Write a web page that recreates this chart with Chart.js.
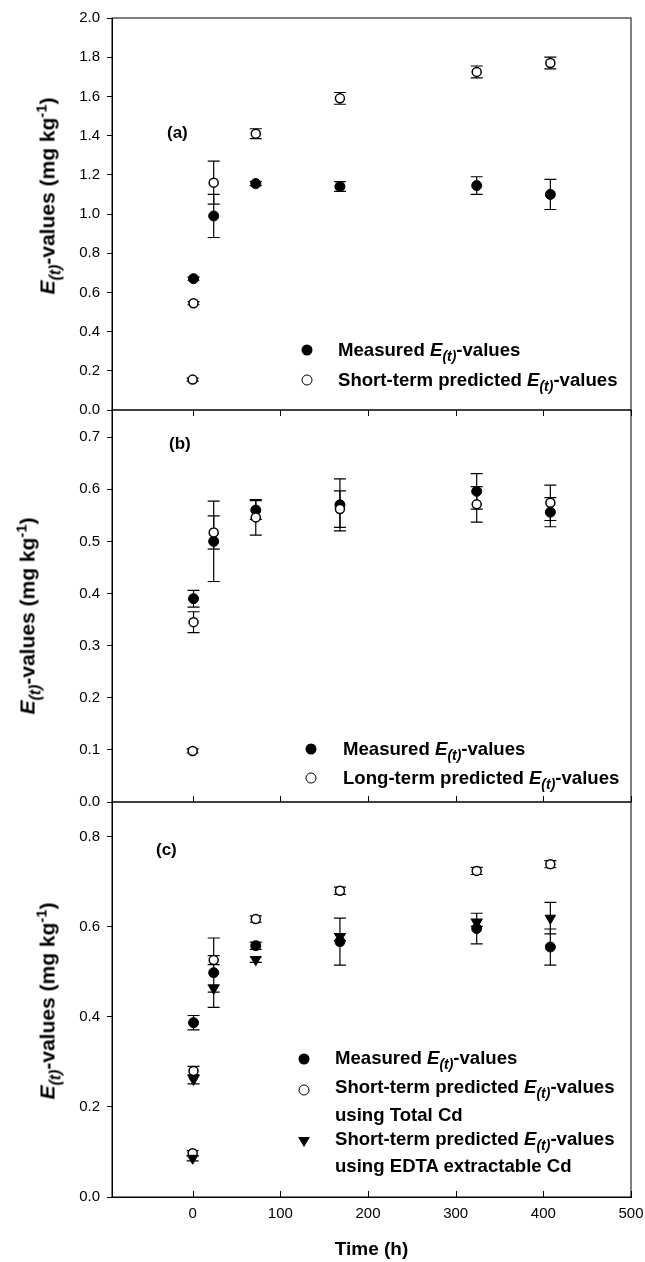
<!DOCTYPE html>
<html>
<head>
<meta charset="utf-8">
<script src="https://cdn.jsdelivr.net/npm/chart.js@4.4.0/dist/chart.umd.min.js"></script>
<style>
body { margin: 0; background: #fff; }
#wrap { position: relative; width: 645px; height: 1262px; font-family: 'Liberation Sans', Arial, sans-serif; color: #000; }
canvas { position: absolute; left: 0; top: 0; }
.ytitle { position: absolute; white-space: nowrap; font-weight: bold; font-size: 21px; line-height: 21px; transform: translate(-50%, -50%) rotate(-90deg); }
.leg { position: absolute; white-space: nowrap; font-weight: bold; font-size: 18.6px; line-height: 18px; transform: translateY(-50%); }
.plabel { position: absolute; font-weight: bold; font-size: 17px; line-height: 17px; transform: translateY(-50%); }
sub { font-size: 0.75em; vertical-align: -0.35em; line-height: 0; font-style: italic; }
sup { font-size: 0.7em; vertical-align: 0.55em; line-height: 0; }
.mk { position: absolute; transform: translate(-50%, -50%); box-sizing: border-box; }
.mk.fill { width: 11px; height: 11px; border-radius: 50%; background: #000; }
.mk.open { width: 11px; height: 11px; border-radius: 50%; border: 1.5px solid #000; background: #fff; }
.mk.tri { width: 0; height: 0; border-left: 6px solid transparent; border-right: 6px solid transparent; border-top: 10px solid #000; }
</style>
</head>
<body>
<div id="wrap">
    <canvas id="chartA" width="645" height="1262"></canvas>
    <canvas id="chartB" width="645" height="1262"></canvas>
    <canvas id="chartC" width="645" height="1262"></canvas>

    <div class="ytitle" style="left:47px; top:196px"><i>E</i><sub>(t)</sub>-values (mg kg<sup>-1</sup>)</div>
    <div class="ytitle" style="left:27px; top:616px"><i>E</i><sub>(t)</sub>-values (mg kg<sup>-1</sup>)</div>
    <div class="ytitle" style="left:47px; top:1001px"><i>E</i><sub>(t)</sub>-values (mg kg<sup>-1</sup>)</div>

    <div class="plabel" style="left:167px; top:132px">(a)</div>
    <div class="plabel" style="left:169px; top:443px">(b)</div>
    <div class="plabel" style="left:156px; top:849px">(c)</div>

    <span class="mk fill" style="left:307px; top:350px"></span>
    <span class="mk open" style="left:307px; top:380px"></span>
    <div class="leg" style="left:338px; top:350px">Measured <i>E</i><sub>(t)</sub>-values</div>
    <div class="leg" style="left:338px; top:380px">Short-term predicted <i>E</i><sub>(t)</sub>-values</div>

    <span class="mk fill" style="left:311px; top:749px"></span>
    <span class="mk open" style="left:311px; top:778px"></span>
    <div class="leg" style="left:343px; top:749px">Measured <i>E</i><sub>(t)</sub>-values</div>
    <div class="leg" style="left:343px; top:778px">Long-term predicted <i>E</i><sub>(t)</sub>-values</div>

    <span class="mk fill" style="left:304px; top:1059px"></span>
    <span class="mk open" style="left:304px; top:1090px"></span>
    <span class="mk tri" style="left:304px; top:1142px"></span>
    <div class="leg" style="left:335px; top:1058px">Measured <i>E</i><sub>(t)</sub>-values</div>
    <div class="leg" style="left:335px; top:1087px">Short-term predicted <i>E</i><sub>(t)</sub>-values</div>
    <div class="leg" style="left:335px; top:1115px">using Total Cd</div>
    <div class="leg" style="left:335px; top:1139px">Short-term predicted <i>E</i><sub>(t)</sub>-values</div>
    <div class="leg" style="left:335px; top:1166px">using EDTA extractable Cd</div>
</div>

<script>
const xTicks = [0, 100, 200, 300, 400, 500]
const timeMeasured = [1, 24, 72, 168, 324, 408]
const timePredicted = [0, 1, 24, 72, 168, 324, 408]

// panel (a)
const yTicksA = [0, 0.2, 0.4, 0.6, 0.8, 1.0, 1.2, 1.4, 1.6, 1.8, 2.0]
const measuredA = [0.67, 0.99, 1.155, 1.14, 1.145, 1.10]
const measuredErrA = [0.008, 0.11, 0.01, 0.025, 0.045, 0.077]
const shortTermA = [0.155, 0.545, 1.16, 1.41, 1.59, 1.725, 1.77]
const shortTermErrA = [0.008, 0.008, 0.11, 0.025, 0.03, 0.03, 0.03]

// panel (b)
const yTicksB = [0, 0.1, 0.2, 0.3, 0.4, 0.5, 0.6, 0.7]
const measuredB = [0.39, 0.50, 0.56, 0.57, 0.596, 0.556]
const measuredErrB = [0.016, 0.077, 0.018, 0.05, 0.034, 0.028]
const longTermB = [0.098, 0.345, 0.517, 0.546, 0.562, 0.571, 0.574]
const longTermErrB = [0.004, 0.02, 0.032, 0.034, 0.035, 0.034, 0.034]

// panel (c)
const yTicksC = [0, 0.2, 0.4, 0.6, 0.8]
const measuredC = [0.387, 0.498, 0.558, 0.567, 0.596, 0.555]
const measuredErrC = [0.016, 0.077, 0.008, 0.052, 0.034, 0.04]
const totalCdC = [0.097, 0.28, 0.526, 0.617, 0.68, 0.724, 0.739]
const totalCdErrC = [0.006, 0.01, 0.01, 0.007, 0.008, 0.008, 0.008]
const edtaC = [0.086, 0.261, 0.463, 0.527, 0.577, 0.609, 0.619]
const edtaErrC = [0.006, 0.01, 0.008, 0.006, 0.008, 0.008, 0.035]

const FONT = "'Liberation Sans', Arial, sans-serif"

function toPoints(times, values) {
    return values.map(function(v, i) {
        return { x: times[i], y: v }
    })
}

function filledSet(label, times, values, errors) {
    return {
        label: label, data: toPoints(times, values), errors: errors,
        pointStyle: 'circle', pointRadius: 5,
        pointBackgroundColor: '#000', pointBorderColor: '#000', pointBorderWidth: 1
    }
}

function openSet(label, times, values, errors) {
    return {
        label: label, data: toPoints(times, values), errors: errors,
        pointStyle: 'circle', pointRadius: 4.5,
        pointBackgroundColor: '#fff', pointBorderColor: '#000', pointBorderWidth: 1.5
    }
}

function triangleSet(label, times, values, errors) {
    return {
        label: label, data: toPoints(times, values), errors: errors,
        pointStyle: 'triangle', pointRotation: 180, pointRadius: 6,
        pointBackgroundColor: '#000', pointBorderColor: '#000', pointBorderWidth: 1
    }
}

// vertical error bars with caps, drawn under the markers
const errorBars = {
    id: 'errorBars',
    beforeDatasetsDraw: function(chart) {
        const ctx = chart.ctx
        const xs = chart.scales.x
        const ys = chart.scales.y
        ctx.save()
        ctx.strokeStyle = '#000'
        ctx.lineWidth = 1.2
        chart.data.datasets.forEach(function(ds) {
            if (!ds.errors) return
            ds.data.forEach(function(p, i) {
                const e = ds.errors[i]
                const px = xs.getPixelForValue(p.x)
                const top = ys.getPixelForValue(p.y + e)
                const bot = ys.getPixelForValue(p.y - e)
                ctx.beginPath()
                ctx.moveTo(px, top)
                ctx.lineTo(px, bot)
                ctx.moveTo(px - 6, top)
                ctx.lineTo(px + 6, top)
                ctx.moveTo(px - 6, bot)
                ctx.lineTo(px + 6, bot)
                ctx.stroke()
            })
        })
        ctx.restore()
    }
}

// box around each panel plus inward x ticks
const frame = {
    id: 'frame',
    afterDraw: function(chart, args, opts) {
        const a = chart.chartArea
        const ctx = chart.ctx
        const xs = chart.scales.x
        ctx.save()
        ctx.strokeStyle = '#000'
        ctx.lineWidth = 1
        ctx.strokeRect(a.left, a.top, a.right - a.left, a.bottom - a.top)
        ctx.beginPath()
        xTicks.forEach(function(v) {
            const px = Math.round(xs.getPixelForValue(v)) + 0.5
            if (opts.top) {
                ctx.moveTo(px, a.top)
                ctx.lineTo(px, a.top + 6)
            }
            if (opts.bottom) {
                ctx.moveTo(px, a.bottom)
                ctx.lineTo(px, a.bottom - 6)
            }
        })
        ctx.stroke()
        ctx.restore()
    }
}

function makePanel(id, datasets, yMax, yTicks, pad, showX, edges) {
    return new Chart(document.getElementById(id), {
        type: 'scatter',
        data: { datasets: datasets },
        options: {
            responsive: false,
            animation: false,
            devicePixelRatio: 1,
            layout: { padding: pad },
            plugins: {
                legend: { display: false },
                tooltip: { enabled: false },
                frame: edges
            },
            scales: {
                x: {
                    type: 'linear',
                    min: -92,
                    max: 500,
                    display: showX,
                    afterBuildTicks: function(s) {
                        s.ticks = xTicks.map(function(v) { return { value: v } })
                    },
                    afterFit: function(s) {
                        s.height = showX ? 64 : 0
                        s.paddingLeft = 0
                        s.paddingRight = 0
                    },
                    grid: { display: true, drawOnChartArea: false, drawTicks: false, color: '#000' },
                    border: { display: true, color: '#000', width: 1 },
                    ticks: { color: '#000', padding: 8, maxRotation: 0, font: { family: FONT, size: 15 } },
                    title: {
                        display: showX, text: 'Time (h)', color: '#000', padding: 0,
                        font: { family: FONT, size: 19, weight: 'bold' }
                    }
                },
                y: {
                    min: 0,
                    max: yMax,
                    afterBuildTicks: function(s) {
                        s.ticks = yTicks.map(function(v) { return { value: v } })
                    },
                    afterFit: function(s) {
                        s.width = 50
                        s.paddingTop = 0
                        s.paddingBottom = 0
                    },
                    grid: { display: true, drawOnChartArea: false, drawTicks: true, tickLength: 5, color: '#000' },
                    border: { display: true, color: '#000', width: 1 },
                    ticks: {
                        color: '#000', padding: 7, font: { family: FONT, size: 15 },
                        callback: function(v) { return Number(v).toFixed(1) }
                    }
                }
            }
        },
        plugins: [errorBars, frame]
    })
}

makePanel('chartA', [
    openSet('Short-term predicted', timePredicted, shortTermA, shortTermErrA),
    filledSet('Measured', timeMeasured, measuredA, measuredErrA)
], 2.0, yTicksA, { left: 62, right: 14, top: 18, bottom: 852 }, false, { top: false, bottom: false })

makePanel('chartB', [
    openSet('Long-term predicted', timePredicted, longTermB, longTermErrB),
    filledSet('Measured', timeMeasured, measuredB, measuredErrB)
], 0.752, yTicksB, { left: 62, right: 14, top: 410, bottom: 460 }, false, { top: true, bottom: true })

makePanel('chartC', [
    triangleSet('Short-term predicted using EDTA extractable Cd', timePredicted, edtaC, edtaErrC),
    openSet('Short-term predicted using Total Cd', timePredicted, totalCdC, totalCdErrC),
    filledSet('Measured', timeMeasured, measuredC, measuredErrC)
], 0.877, yTicksC, { left: 62, right: 14, top: 802, bottom: 1 }, true, { top: false, bottom: true })
</script>
</body>
</html>
